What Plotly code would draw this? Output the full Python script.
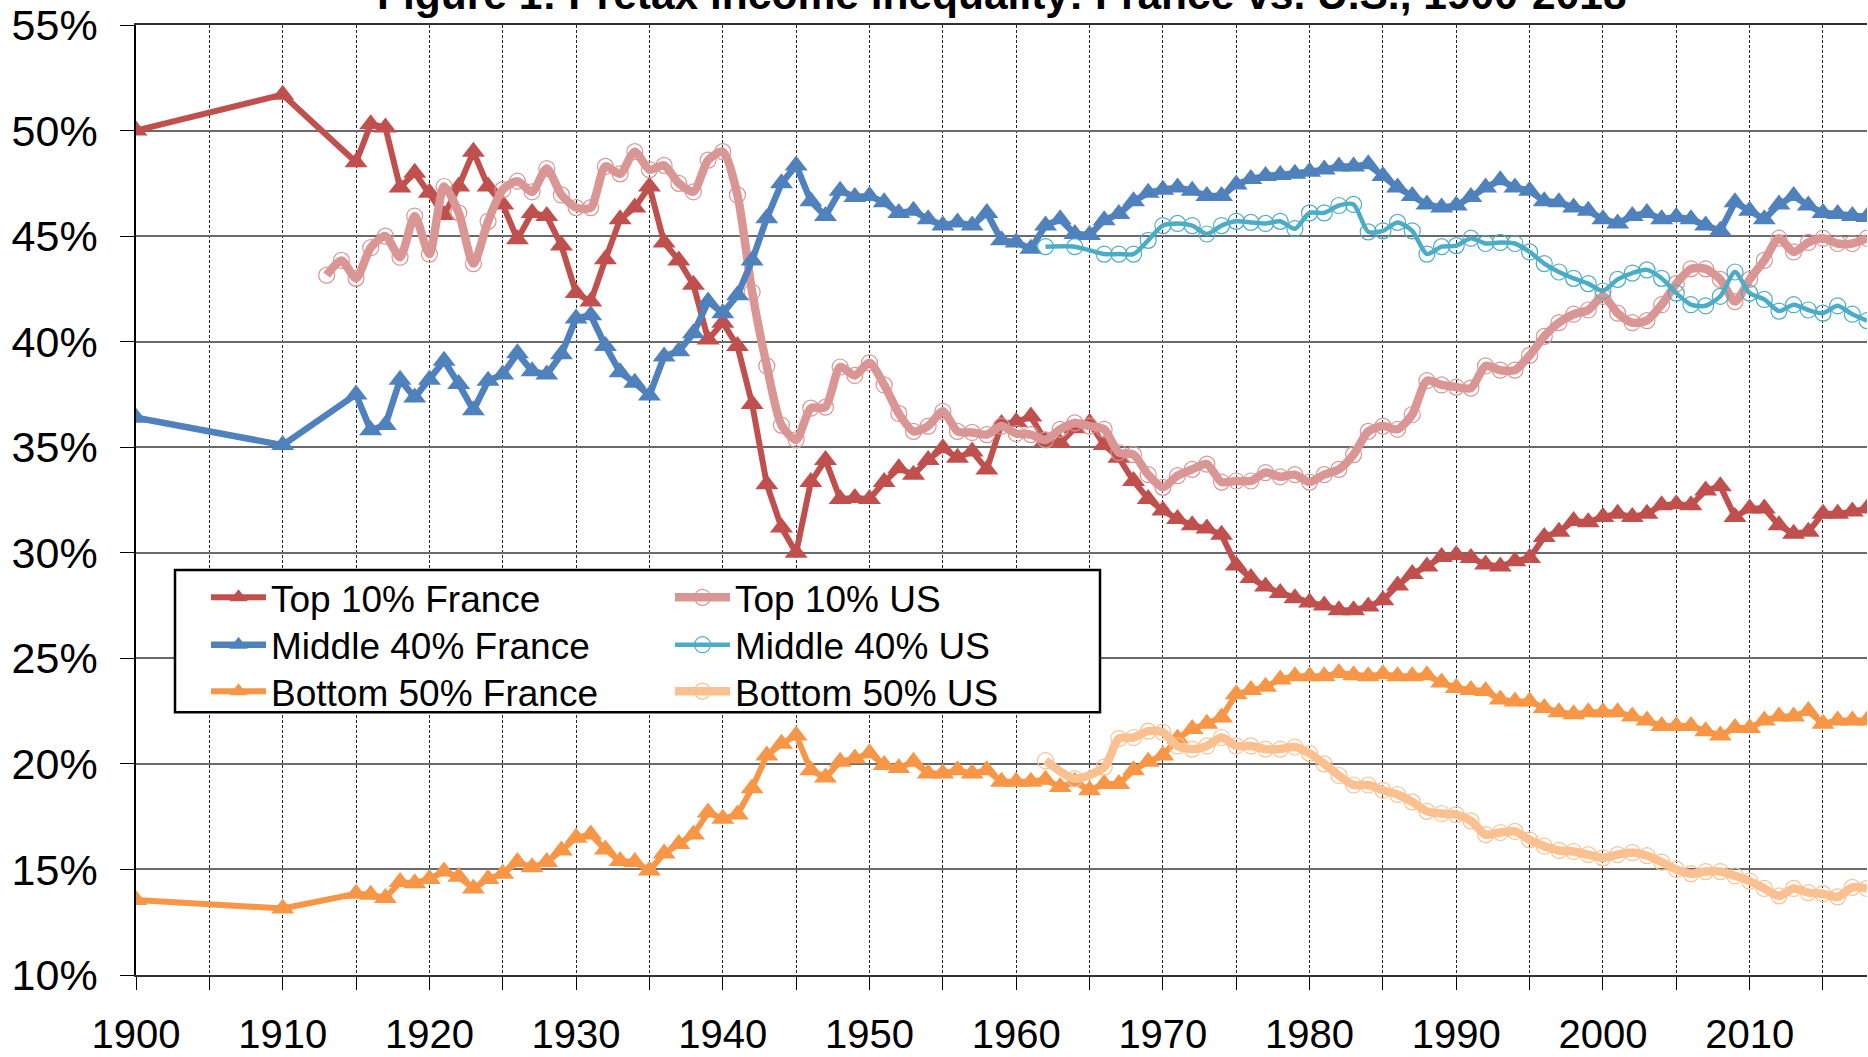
import plotly.graph_objects as go

# ---------------- data (percent of pretax national income) ----------------
years_fr = [1900, 1910] + list(range(1915, 2019))
years_us_top = list(range(1913, 2019))
years_us_dist = [1962, 1964] + list(range(1966, 2019))

top10_fr = [50.0, 51.7,
            48.5, 50.3, 50.15, 47.3, 48.0,
            47.05, 46.0, 47.35, 49.0, 47.35, 46.5, 44.85, 46.1, 45.95, 44.55,
            42.3, 41.9, 43.9, 45.8, 46.35, 47.35, 44.7, 43.85, 42.7, 40.1,
            40.9, 39.8, 37.05, 33.25, 31.2, 30.0, 33.35, 34.4, 32.55, 32.6,
            32.55, 33.35, 34.0, 33.7, 34.4, 34.95, 34.5, 34.8, 33.95, 36.1,
            36.2, 36.45, 35.3, 35.2, 35.9, 36.15, 35.1, 34.5, 33.4, 32.55,
            32.0, 31.6, 31.3, 31.15, 30.85, 29.4, 28.8, 28.4, 28.1, 27.85,
            27.65, 27.5, 27.28, 27.28, 27.45, 27.75, 28.45, 29.0, 29.35, 29.8,
            29.9, 29.75, 29.45, 29.35, 29.6, 29.75, 30.75, 31.0, 31.5, 31.45,
            31.7, 31.85, 31.7, 31.85, 32.25, 32.3, 32.25, 32.95, 33.15, 31.7,
            32.1, 32.1, 31.3, 30.9, 31.0, 31.85, 31.85, 31.95, 32.1]

mid40_fr = [36.4, 35.1,
            37.5, 35.8, 36.05, 38.2, 37.35,
            38.2, 39.1, 38.0, 36.75, 38.15, 38.45, 39.45, 38.6, 38.45, 39.4,
            41.1, 41.25, 39.8, 38.55, 38.05, 37.45, 39.3, 39.55, 40.4, 41.9,
            41.35, 42.2, 43.85, 45.85, 47.5, 48.35, 46.65, 45.95, 47.15, 46.85,
            46.9, 46.6, 46.1, 46.2, 45.8, 45.5, 45.65, 45.5, 46.1, 44.8,
            44.7, 44.4, 45.5, 45.8, 45.1, 45.05, 45.75, 46.05, 46.65, 47.05,
            47.2, 47.3, 47.15, 46.9, 46.9, 47.45, 47.7, 47.85, 47.9, 47.95,
            48.05, 48.15, 48.3, 48.3, 48.4, 47.85, 47.3, 46.9, 46.5, 46.35,
            46.45, 46.85, 47.3, 47.65, 47.3, 47.15, 46.65, 46.6, 46.35, 46.2,
            45.8, 45.6, 45.95, 46.1, 45.8, 45.9, 45.8, 45.5, 45.25, 46.6,
            46.2, 45.8, 46.5, 46.9, 46.45, 46.1, 46.05, 45.95, 45.9]

bot50_fr = [13.55, 13.15,
            13.85, 13.8, 13.65, 14.4, 14.35,
            14.55, 14.9, 14.65, 14.1, 14.55, 14.8, 15.35, 15.1, 15.35, 15.9,
            16.5, 16.65, 15.95, 15.4, 15.35, 14.95, 15.75, 16.2, 16.65, 17.7,
            17.4, 17.6, 18.85, 20.4, 20.95, 21.35, 19.7, 19.35, 20.1, 20.25,
            20.5, 19.95, 19.8, 20.1, 19.55, 19.55, 19.7, 19.55, 19.7, 19.15,
            19.15, 19.15, 19.25, 18.9, 19.15, 18.75, 19.05, 19.05, 19.7, 20.1,
            20.4, 21.2, 21.65, 21.9, 22.2, 23.3, 23.5, 23.65, 24.0, 24.15,
            24.15, 24.15, 24.3, 24.2, 24.15, 24.25, 24.15, 24.15, 24.2, 23.85,
            23.6, 23.5, 23.45, 23.05, 22.95, 22.95, 22.65, 22.45, 22.35, 22.45,
            22.45, 22.45, 22.25, 22.05, 21.8, 21.8, 21.8, 21.55, 21.35, 21.7,
            21.7, 22.05, 22.25, 22.25, 22.5, 21.9, 22.05, 22.05, 22.05]

top10_us = [43.15, 43.85, 43.0, 44.45, 45.0, 44.0, 45.95,
            44.15, 47.35, 46.1, 43.7, 45.7, 47.2, 47.6, 47.1, 48.2, 46.95,
            46.35, 46.35, 48.3, 47.95, 49.0, 48.15, 48.35, 47.5, 47.1, 48.6,
            49.0, 46.95, 42.35, 38.85, 36.05, 35.35, 36.85, 36.9, 38.8, 38.4,
            39.0, 37.95, 36.6, 35.75, 36.0, 36.7, 35.75, 35.7, 35.6, 36.0,
            35.65, 35.6, 35.35, 35.85, 36.15, 36.0, 35.85, 34.75, 34.65, 33.7,
            33.1, 33.65, 33.95, 34.2, 33.35, 33.4, 33.4, 33.8, 33.6, 33.7,
            33.35, 33.7, 33.95, 34.65, 35.75, 36.0, 35.85, 36.55, 38.15, 37.95,
            37.85, 37.8, 38.85, 38.65, 38.65, 39.35, 40.25, 40.9, 41.3, 41.5,
            42.15, 41.35, 40.9, 41.0, 41.75, 42.75, 43.45, 43.45, 42.95, 41.9,
            42.95, 43.85, 44.9, 44.25, 44.7, 44.9, 44.65, 44.65, 44.9]

mid40_us = [44.5, 44.5,
            44.15, 44.15, 44.15, 44.8,
            45.5, 45.6, 45.5, 45.1, 45.5, 45.7, 45.65, 45.6, 45.7, 45.35,
            46.1, 46.1, 46.45, 46.5, 45.2, 45.25, 45.65, 45.25, 44.15, 44.5,
            44.55, 44.9, 44.65, 44.7, 44.65, 44.25, 43.7, 43.3, 43.0, 42.75,
            42.4, 42.95, 43.25, 43.4, 43.0, 42.3, 41.75, 41.7, 42.15, 43.3,
            42.3, 42.0, 41.45, 41.75, 41.5, 41.35, 41.7, 41.3, 41.0]

bot50_us = [20.15, 19.3,
            19.85, 21.2, 21.25, 21.55,
            21.5, 20.85, 20.7, 20.85, 21.25, 20.85, 20.85, 20.7, 20.7, 20.8,
            20.5, 20.0, 19.45, 19.0, 19.0, 18.75, 18.55, 18.2, 17.75, 17.65,
            17.6, 17.3, 16.65, 16.75, 16.8, 16.4, 16.1, 15.9, 15.85, 15.7,
            15.55, 15.7, 15.8, 15.65, 15.35, 15.0, 14.8, 14.9, 14.9, 14.7,
            14.45, 14.1, 13.75, 14.1, 13.9, 13.85, 13.7, 14.15, 14.1]

assert len(top10_fr) == len(years_fr) == len(mid40_fr) == len(bot50_fr)
assert len(top10_us) == len(years_us_top)
assert len(mid40_us) == len(years_us_dist) == len(bot50_us)

x_ticks = list(range(1900, 2016, 5))
x_labels = [str(v) if v % 10 == 0 else "" for v in x_ticks]
y_ticks = [10, 15, 20, 25, 30, 35, 40, 45, 50, 55]
y_labels = [f"{v}%" for v in y_ticks]

title_text = "Figure 1: Pretax income inequality: France vs. U.S., 1900-2018"

# ---------------- figure ----------------
W, H = 1868, 1057
ML, MR, MT, MB = 136, 1, 22, 73
PW, PH = W - ML - MR, H - MT - MB
FONT = "Arial, 'Liberation Sans', sans-serif"

def px_x(px):
    return (px - ML) / PW

def px_y(py):
    return (H - MB - py) / PH

series = [
    # name, x, y, color, line width, symbol, size, is_us, legend row, legend col
    ("Top 10% France", years_fr, top10_fr, "#C0504D", 6, "triangle-up", 20, False, 0, 0),
    ("Top 10% US", years_us_top, top10_us, "#D99694", 8.5, "circle-open", 16, True, 0, 1),
    ("Middle 40% France", years_fr, mid40_fr, "#4F81BD", 6.5, "triangle-up", 20, False, 1, 0),
    ("Middle 40% US", years_us_dist, mid40_us, "#4BACC6", 4.5, "circle-open", 16, True, 1, 1),
    ("Bottom 50% France", years_fr, bot50_fr, "#F79646", 6, "triangle-up", 20, False, 2, 0),
    ("Bottom 50% US", years_us_dist, bot50_us, "#FAC090", 8.5, "circle-open", 16, True, 2, 1),
]

row_y = [602, 650, 697]
col_x = [206, 670]

fig = go.Figure()
legends = {}
for i, (name, xs, ys, col, lw, sym, ms, is_us, r, c) in enumerate(series):
    lg = "legend" if i == 0 else f"legend{i + 1}"
    line = dict(color=col, width=lw)
    if is_us:
        line.update(shape="spline", smoothing=0.7)
        marker = dict(symbol=sym, size=ms, color=col, line=dict(color=col, width=1.2))
    else:
        marker = dict(symbol=sym, size=ms, color=col, line=dict(width=0))
    fig.add_trace(go.Scatter(x=xs, y=ys, name=name, mode="lines+markers",
                             line=line, marker=marker, legend=lg))
    legends[lg] = dict(x=px_x(col_x[c]), y=px_y(row_y[r]), xref="paper", yref="paper",
                       xanchor="left", yanchor="middle", bgcolor="rgba(0,0,0,0)",
                       borderwidth=0, itemwidth=55,
                       font=dict(family=FONT, size=37, color="black"))

fig.add_shape(type="rect", xref="paper", yref="paper", layer="above",
              x0=px_x(175), x1=px_x(1100), y0=px_y(718), y1=px_y(574),
              fillcolor="white", line=dict(color="black", width=2.5))

fig.add_annotation(text="<b>" + title_text + "</b>", xref="paper", yref="paper",
                   x=0.5, y=1, xanchor="center", yanchor="bottom", yshift=5,
                   showarrow=False, font=dict(family=FONT, size=42.5, color="black"))

fig.update_layout(
    width=W, height=H,
    margin=dict(l=ML, r=MR, t=MT, b=MB, pad=0),
    paper_bgcolor="white", plot_bgcolor="white",
    font=dict(family=FONT, size=40, color="black"),
    showlegend=True,
    **legends,
)

fig.update_xaxes(range=[1900, 2018], tickvals=x_ticks, ticktext=x_labels,
                 showgrid=True, gridcolor="#222222", gridwidth=1, griddash="3px,2px",
                 ticks="outside", ticklen=13, tickwidth=1, tickcolor="black",
                 showline=True, linecolor="#333333", linewidth=2, mirror=True,
                 zeroline=False, tickfont=dict(size=40), ticklabelstandoff=10,
                 ticklabeloverflow="allow")
fig.update_yaxes(range=[10, 55], tickvals=y_ticks, ticktext=y_labels,
                 showgrid=True, gridcolor="#6a6a6a", gridwidth=2,
                 ticks="outside", ticklen=14, tickwidth=1, tickcolor="black",
                 showline=True, linecolor="black", linewidth=1.5,
                 zeroline=False, tickfont=dict(size=43), ticklabelstandoff=14,
                 ticklabeloverflow="allow")

fig.write_html("out.html", config={"displayModeBar": False},
               post_script="document.body.style.margin='0';document.body.style.overflow='hidden';")
